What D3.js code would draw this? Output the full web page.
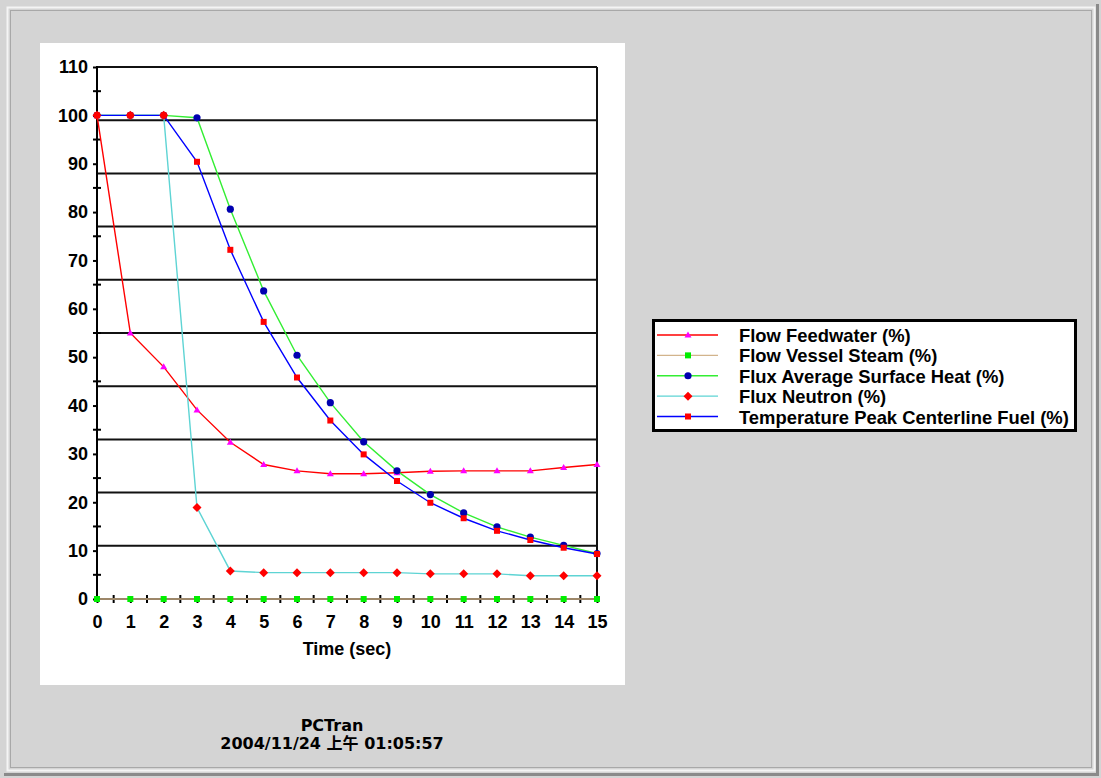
<!DOCTYPE html>
<html>
<head>
<meta charset="utf-8">
<script src="https://cdn.jsdelivr.net/npm/d3@7"></script>
<style>
  html, body { margin: 0; padding: 0; background: #d4d4d4; }
  svg { display: block; }
  text { font-weight: bold; fill: #000; }
</style>
</head>
<body>
<script>
// ---- data ----
const times = [0, 1, 2, 3, 4, 5, 6, 7, 8, 9, 10, 11, 12, 13, 14, 15];
const flowFeedwater   = [100, 55, 48, 39.1, 32.4, 27.8, 26.5, 25.9, 25.9, 26.1, 26.4, 26.5, 26.5, 26.5, 27.2, 27.8];
const flowVesselSteam = [0, 0, 0, 0, 0, 0, 0, 0, 0, 0, 0, 0, 0, 0, 0, 0];
const fluxSurfaceHeat = [100, 100, 100, 99.5, 80.6, 63.7, 50.4, 40.6, 32.5, 26.5, 21.6, 17.8, 14.9, 12.8, 11.1, 9.4];
const fluxNeutron     = [100, 100, 100, 18.9, 5.8, 5.45, 5.45, 5.45, 5.45, 5.45, 5.2, 5.2, 5.2, 4.8, 4.8, 4.8];
const tempPeakFuel    = [100, 100, 100, 90.4, 72.2, 57.3, 45.8, 36.9, 29.9, 24.4, 19.9, 16.7, 14.1, 12.2, 10.6, 9.3];
const seriesNames = ["Flow Feedwater (%)", "Flow Vessel Steam (%)", "Flux Average Surface Heat (%)", "Flux Neutron (%)", "Temperature Peak Centerline Fuel (%)"];
const yTickValues = [0, 10, 20, 30, 40, 50, 60, 70, 80, 90, 100, 110];
const yMinorValues = [5, 15, 25, 35, 45, 55, 65, 75, 85, 95, 105];
const xTickValues = times;
const xMinorValues = [0.5, 1.5, 2.5, 3.5, 4.5, 5.5, 6.5, 7.5, 8.5, 9.5, 10.5, 11.5, 12.5, 13.5, 14.5];
const xTitle = "Time (sec)";
const footer1 = "PCTran";
const footer2 = "2004/11/24 上午 01:05:57";

// ---- styles ----
const series = [
  { name: seriesNames[0], values: flowFeedwater,   line: "#ff0000", mark: "#ff00ff", shape: "triangle", ord: 0 },
  { name: seriesNames[1], values: flowVesselSteam, line: "#d2b48c", mark: "#00ee00", shape: "square",   ord: 1 },
  { name: seriesNames[2], values: fluxSurfaceHeat, line: "#33ee33", mark: "#0000b0", shape: "circle",   ord: 2 },
  { name: seriesNames[3], values: fluxNeutron,     line: "#5ed4d4", mark: "#ff0000", shape: "diamond",  ord: 4 },
  { name: seriesNames[4], values: tempPeakFuel,    line: "#0000ff", mark: "#ff0000", shape: "square",   ord: 3 }
];

const LAB = "'Liberation Sans', Arial, sans-serif";
const W = 1101, H = 778;
const svg = d3.select("body").append("svg").attr("width", W).attr("height", H);

// window background + 3D frame
svg.append("rect").attr("x", 0).attr("y", 0).attr("width", W).attr("height", H).attr("fill", "#d4d4d4");
svg.append("rect").attr("x", 7.5).attr("y", 7.5).attr("width", 1087).attr("height", 763)
  .attr("fill", "none").attr("stroke", "#f4f4f4").attr("stroke-width", 2);
svg.append("rect").attr("x", 10.5).attr("y", 10.5).attr("width", 1081).attr("height", 757)
  .attr("fill", "none").attr("stroke", "#a8a8a8").attr("stroke-width", 1);
svg.append("line").attr("x1", 1097.5).attr("y1", 4).attr("x2", 1097.5).attr("y2", 774).attr("stroke", "#8a8a8a").attr("stroke-width", 3);
svg.append("line").attr("x1", 4).attr("y1", 774.5).attr("x2", 1099).attr("y2", 774.5).attr("stroke", "#8a8a8a").attr("stroke-width", 3);

// white chart panel
svg.append("rect").attr("x", 40).attr("y", 43).attr("width", 585).attr("height", 642).attr("fill", "#ffffff");

const x = d3.scaleLinear().domain([0, 15]).range([97, 597]);
const y = d3.scaleLinear().domain([0, 110]).range([599, 67]);

// horizontal grid lines at tenths of the range
const gridVals = d3.range(1, 11).map(i => y.domain()[1] * i / 10);
svg.append("g").selectAll("line").data(gridVals).join("line")
  .attr("x1", x(0)).attr("x2", x(15))
  .attr("y1", d => y(d)).attr("y2", d => y(d))
  .attr("stroke", "#111").attr("stroke-width", 2);

// right border
svg.append("line").attr("x1", x(15)).attr("x2", x(15)).attr("y1", y(110)).attr("y2", y(0))
  .attr("stroke", "#111").attr("stroke-width", 2);

// Y axis
const yAxis = svg.append("g").attr("transform", `translate(${x(0)},0)`)
  .call(d3.axisLeft(y).tickValues(yTickValues).tickSize(4).tickPadding(5));
yAxis.select(".domain").remove();
yAxis.selectAll(".tick line").attr("stroke", "#000").attr("stroke-width", 2);
yAxis.selectAll(".tick text").style("font-size", "18px").style("font-family", LAB);
svg.append("line").attr("x1", x(0)).attr("x2", x(0)).attr("y1", y(110) - 1).attr("y2", y(0) + 1)
  .attr("stroke", "#000").attr("stroke-width", 2);
svg.append("g").selectAll("line").data(yMinorValues).join("line")
  .attr("x1", x(0) - 4).attr("x2", x(0) + 4)
  .attr("y1", d => y(d)).attr("y2", d => y(d))
  .attr("stroke", "#000").attr("stroke-width", 2);

// X axis
const xAxis = svg.append("g").attr("transform", `translate(0,${y(0)})`)
  .call(d3.axisBottom(x).tickValues(xTickValues).tickSize(4).tickPadding(12).tickFormat(d3.format("d")));
xAxis.select(".domain").remove();
xAxis.selectAll(".tick line").attr("stroke", "#000").attr("stroke-width", 2);
xAxis.selectAll(".tick text").style("font-size", "18px").style("font-family", LAB);
svg.append("line").attr("x1", x(0)).attr("x2", x(15)).attr("y1", y(0)).attr("y2", y(0))
  .attr("stroke", "#000").attr("stroke-width", 2);
svg.append("g").selectAll("line").data(xMinorValues).join("line")
  .attr("x1", d => x(d)).attr("x2", d => x(d))
  .attr("y1", y(0) - 4).attr("y2", y(0) + 4)
  .attr("stroke", "#000").attr("stroke-width", 2);

svg.append("text").attr("x", (x(0) + x(15)) / 2).attr("y", 655)
  .attr("text-anchor", "middle").style("font-size", "18px").style("font-family", LAB).text(xTitle);

// series lines
const lineGen = d3.line().x((d, i) => x(times[i])).y(d => y(d));
svg.append("g").selectAll("path").data(series).join("path")
  .attr("d", s => lineGen(s.values))
  .attr("fill", "none").attr("stroke", s => s.line).attr("stroke-width", 1.4);

// markers
function drawMarker(g, shape, color, cx, cy) {
  if (shape === "circle") {
    g.append("circle").attr("cx", cx).attr("cy", cy).attr("r", 3.6).attr("fill", color);
  } else if (shape === "square") {
    g.append("rect").attr("x", cx - 3).attr("y", cy - 3).attr("width", 6).attr("height", 6).attr("fill", color);
  } else if (shape === "diamond") {
    g.append("path").attr("d", `M${cx},${cy - 4.5}L${cx + 4.5},${cy}L${cx},${cy + 4.5}L${cx - 4.5},${cy}Z`).attr("fill", color);
  } else if (shape === "triangle") {
    g.append("path").attr("d", `M${cx},${cy - 3.5}L${cx + 3.5},${cy + 2.5}L${cx - 3.5},${cy + 2.5}Z`).attr("fill", color);
  }
}
const markG = svg.append("g");
series.slice().sort((a, b) => a.ord - b.ord).forEach(s => {
  s.values.forEach((v, i) => drawMarker(markG, s.shape, s.mark, x(times[i]), y(v)));
});

// legend
const lg = svg.append("g");
lg.append("rect").attr("x", 653.5).attr("y", 320.5).attr("width", 422).attr("height", 110)
  .attr("fill", "#fff").attr("stroke", "#000").attr("stroke-width", 3);
const rowY = d3.scaleLinear().domain([0, 4]).range([335, 416.5]);
series.forEach((s, i) => {
  const ry = rowY(i);
  lg.append("line").attr("x1", 657).attr("x2", 718).attr("y1", ry).attr("y2", ry)
    .attr("stroke", s.line).attr("stroke-width", 1.4);
  drawMarker(lg, s.shape, s.mark, 688, ry);
  lg.append("text").attr("x", 739).attr("y", ry + 7)
    .style("font-size", "18.4px").style("font-family", LAB).text(s.name);
});

// footer
svg.append("text").attr("x", 332).attr("y", 731).attr("text-anchor", "middle")
  .style("font-family", "'DejaVu Sans', sans-serif").style("font-size", "16px").text(footer1);
svg.append("text").attr("x", 332).attr("y", 749).attr("text-anchor", "middle")
  .style("font-family", "'DejaVu Sans', 'Noto Sans CJK TC', sans-serif").style("font-size", "16px").text(footer2);
</script>
</body>
</html>
